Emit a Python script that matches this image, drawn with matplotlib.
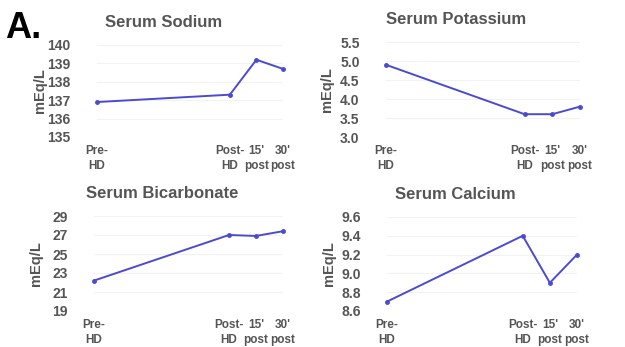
import matplotlib.pyplot as plt

# sampling points and labels
x_pos = [0, 5, 6, 7]
x_labels = ["Pre-\nHD", "Post-\nHD", "15'\npost", "30'\npost"]

sodium = [136.9, 137.3, 139.2, 138.7]
potassium = [4.9, 3.6, 3.6, 3.8]
bicarb = [22.2, 27.0, 26.9, 27.4]
calcium = [8.7, 9.4, 8.9, 9.2]

titles = ["Serum Sodium", "Serum Potassium", "Serum Bicarbonate", "Serum Calcium"]
ticks = [
    [135, 136, 137, 138, 139, 140],
    [3.0, 3.5, 4.0, 4.5, 5.0, 5.5],
    [19, 21, 23, 25, 27, 29],
    [8.6, 8.8, 9.0, 9.2, 9.4, 9.6],
]
tick_fmt = ["{:.0f}", "{:.1f}", "{:.0f}", "{:.1f}"]
series = [sodium, potassium, bicarb, calcium]

plt.rcParams['font.family'] = ['Liberation Sans', 'DejaVu Sans']
txt = '#555555'
line_col = '#4b4bd2'

W, H = 625, 347
# axes boxes in pixels: left, right, top, bottom
boxes = [(97, 283, 45, 137), (386, 580, 42, 137),
         (94, 283, 216, 311), (387, 577, 217, 311)]

fig = plt.figure(figsize=(W / 100, H / 100), dpi=100)
fig.patch.set_facecolor('white')

for i in range(4):
    l, r, t, b = boxes[i]
    ax = fig.add_axes([l / W, 1 - b / H, (r - l) / W, (b - t) / H])
    ax.plot(x_pos, series[i], color=line_col, lw=1.4, marker='o',
            markersize=2.5, clip_on=False)
    ax.set_xlim(0, 7)
    ax.set_ylim(ticks[i][0], ticks[i][-1])
    ax.set_yticks(ticks[i])
    ax.set_yticklabels([tick_fmt[i].format(v) for v in ticks[i]],
                       fontsize=10, fontweight='bold', color=txt)
    ax.set_xticks(x_pos)
    ax.set_xticklabels(x_labels, fontsize=8.5, fontweight='bold', color=txt,
                       linespacing=1.25)
    ax.tick_params(axis='y', length=0, pad=19)
    ax.tick_params(axis='x', length=0, pad=6)
    for s in ax.spines.values():
        s.set_visible(False)
    ax.grid(axis='y', color='#f2f2f2', lw=0.8)
    ax.set_axisbelow(True)
    ax.set_ylabel("mEq/L", fontsize=10.5, fontweight='bold', color=txt)
    ax.yaxis.set_label_coords(-0.27, 0.5)
    ax.text(0.36, 1.24, titles[i], transform=ax.transAxes, ha='center',
            va='center', fontsize=12, fontweight='bold', color=txt)

fig.text(5 / W, 1 - 28 / H, "A.", fontsize=26, fontweight='bold',
         color='black', va='center', ha='left')

fig.savefig('out.png', dpi=100, facecolor='white')
